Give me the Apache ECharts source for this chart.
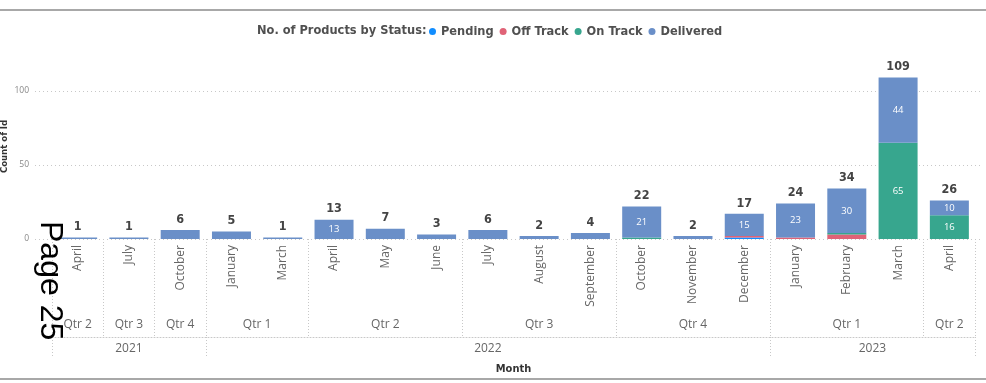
<!DOCTYPE html>
<html>
<head>
<meta charset="utf-8">
<title>No. of Products by Status</title>
<script src="https://cdn.jsdelivr.net/npm/echarts@6/dist/echarts.min.js"></script>
<style>
  html, body { margin: 0; padding: 0; background: #fff; }
  #chart { width: 986px; height: 383px; }
</style>
</head>
<body>
<div id="chart"></div>
<script>
// Month categories, oldest first
const months = ['April', 'July', 'October', 'January', 'March', 'April', 'May', 'June',
  'July', 'August', 'September', 'October', 'November', 'December',
  'January', 'February', 'March', 'April'];

// Counts per status for each month
const pending   = [0, 0, 0, 0, 0, 0, 0, 0, 0, 0, 0, 0, 0, 1, 0, 0, 0, 0];
const offTrack  = [0, 0, 0, 0, 0, 0, 0, 0, 0, 0, 0, 0, 0, 1, 1, 3, 0, 0];
const onTrack   = [0, 0, 0, 0, 0, 0, 0, 0, 0, 0, 0, 1, 0, 0, 0, 1, 65, 16];
const delivered = [1, 1, 6, 5, 1, 13, 7, 3, 6, 2, 4, 21, 2, 15, 23, 30, 44, 10];

// Date hierarchy: quarters and years with how many months each covers
const quarterNames = ['Qtr 2', 'Qtr 3', 'Qtr 4', 'Qtr 1', 'Qtr 2', 'Qtr 3', 'Qtr 4', 'Qtr 1', 'Qtr 2'];
const quarterSpans = [1, 1, 1, 2, 3, 3, 3, 3, 1];
const yearNames = ['2021', '2022', '2023'];
const yearSpans = [3, 11, 4];

// Y axis ticks
const yTicks = [0, 50, 100];

const totals = months.map((_, i) => pending[i] + offTrack[i] + onTrack[i] + delivered[i]);

// Half-month slots: slot 2k is the boundary before month k, slot 2k+1 is its centre
function hierarchyLevel(names, spans) {
  const labels = new Array(months.length * 2 + 1).fill('');
  const bounds = new Set([0]);
  let start = 0;
  names.forEach((n, i) => {
    labels[2 * start + spans[i]] = n;
    start += spans[i];
    bounds.add(2 * start);
  });
  return { labels, bounds };
}
const qLevel = hierarchyLevel(quarterNames, quarterSpans);
const yLevel = hierarchyLevel(yearNames, yearSpans);

const COLORS = {
  pending: '#118DFF',
  offTrack: '#E06377',
  onTrack: '#37A68E',
  delivered: '#6A8FC8'
};
const HEAD_FONT = 'DejaVu Sans Condensed';
const BODY_FONT = 'Open Sans';
const GRID_LINE = '#c8c8c8';
const yMax = 110;

const insideLabel = {
  show: true,
  position: 'inside',
  color: '#fff',
  fontFamily: BODY_FONT,
  fontSize: 9.5,
  formatter: p => (p.value >= 10 ? String(p.value) : '')
};

function statusSeries(name, data, color) {
  return {
    name, type: 'bar', stack: 'status', data,
    xAxisIndex: 0, yAxisIndex: 0,
    barWidth: 39,
    itemStyle: { color },
    label: insideLabel,
    emphasis: { disabled: true }
  };
}

const chart = echarts.init(document.getElementById('chart'), null, { renderer: 'canvas' });

chart.setOption({
  animation: false,
  title: {
    text: 'No. of Products by Status:',
    left: 252, top: 19,
    textStyle: { fontFamily: HEAD_FONT, fontWeight: 'bold', fontSize: 12.7, color: '#505050' }
  },
  legend: {
    data: ['Pending', 'Off Track', 'On Track', 'Delivered'],
    left: 424, top: 20,
    icon: 'circle',
    itemWidth: 7, itemHeight: 7, itemGap: 6,
    textStyle: { fontFamily: HEAD_FONT, fontWeight: 'bold', fontSize: 12.7, color: '#505050' }
  },
  grid: [
    { left: 52, right: 11, top: 76, bottom: 144, outerBoundsMode: 'none' },
    { left: 35, right: 5, top: 76, bottom: 144, outerBoundsMode: 'none' }
  ],
  xAxis: [
    {
      type: 'category', gridIndex: 0, data: months,
      axisLine: { show: false }, axisTick: { show: false },
      axisLabel: { rotate: 90, interval: 0, margin: 6, color: '#666', fontFamily: BODY_FONT, fontSize: 12 }
    },
    {
      type: 'category', gridIndex: 0, position: 'bottom', offset: 0,
      data: qLevel.labels, boundaryGap: false,
      axisLine: { show: false },
      axisTick: {
        show: true, length: 98,
        interval: idx => qLevel.bounds.has(idx),
        lineStyle: { color: GRID_LINE, type: [1, 2] }
      },
      axisLabel: { interval: 0, margin: 80, color: '#666', fontFamily: BODY_FONT, fontSize: 12 }
    },
    {
      type: 'category', gridIndex: 0, position: 'bottom', offset: 98,
      data: yLevel.labels, boundaryGap: false,
      name: 'Month', nameLocation: 'middle', nameGap: 27, nameMoveOverlap: false,
      nameTextStyle: { fontFamily: HEAD_FONT, fontWeight: 'bold', fontSize: 11, color: '#333' },
      axisLine: { show: true, lineStyle: { color: GRID_LINE, type: [1, 2] } },
      axisTick: {
        show: true, length: 21,
        interval: idx => yLevel.bounds.has(idx),
        lineStyle: { color: GRID_LINE, type: [1, 2] }
      },
      axisLabel: { interval: 0, margin: 6, color: '#666', fontFamily: BODY_FONT, fontSize: 12 }
    },
    { type: 'value', gridIndex: 1, show: false, min: 0, max: 1 }
  ],
  yAxis: [
    {
      type: 'value', gridIndex: 0, min: 0, max: yMax, interval: 50,
      name: 'Count of Id', nameLocation: 'middle', nameGap: 42, nameMoveOverlap: false,
      nameTextStyle: { fontFamily: HEAD_FONT, fontWeight: 'bold', fontSize: 9.5, color: '#333', padding: [0, 0, 0, 22] },
      axisLine: { show: false }, axisTick: { show: false },
      splitLine: { show: false },
      axisLabel: {
        margin: 23, color: '#888', fontFamily: BODY_FONT, fontSize: 8.5,
        formatter: v => (yTicks.includes(v) ? String(v) : '')
      }
    },
    {
      type: 'value', gridIndex: 1, min: 0, max: yMax, interval: 50,
      axisLine: { show: false }, axisTick: { show: false }, axisLabel: { show: false },
      splitLine: { show: true, lineStyle: { color: [GRID_LINE, GRID_LINE, GRID_LINE, 'transparent'], type: [1, 3] } }
    }
  ],
  series: [
    statusSeries('Pending', pending, COLORS.pending),
    statusSeries('Off Track', offTrack, COLORS.offTrack),
    statusSeries('On Track', onTrack, COLORS.onTrack),
    statusSeries('Delivered', delivered, COLORS.delivered),
    {
      name: 'Total', type: 'bar', data: totals,
      xAxisIndex: 0, yAxisIndex: 0,
      barWidth: 39, barGap: '-100%',
      itemStyle: { color: 'transparent' },
      label: {
        show: true, position: 'top', distance: 4,
        color: '#444', fontFamily: HEAD_FONT, fontWeight: 'bold', fontSize: 12.5
      },
      emphasis: { disabled: true },
      silent: true
    }
  ],
  graphic: [
    { type: 'rect', shape: { x: 0, y: 9, width: 986, height: 2 }, style: { fill: '#a8a8a8' }, silent: true },
    { type: 'rect', shape: { x: 0, y: 378, width: 986, height: 2 }, style: { fill: '#a8a8a8' }, silent: true },
    {
      type: 'text', x: 66, y: 221, rotation: -Math.PI / 2,
      style: { text: 'Page 25', fontFamily: 'Liberation Sans', fontSize: 32, fill: '#000', textAlign: 'left', textVerticalAlign: 'top' },
      z: 100, silent: true
    }
  ]
});
</script>
</body>
</html>
